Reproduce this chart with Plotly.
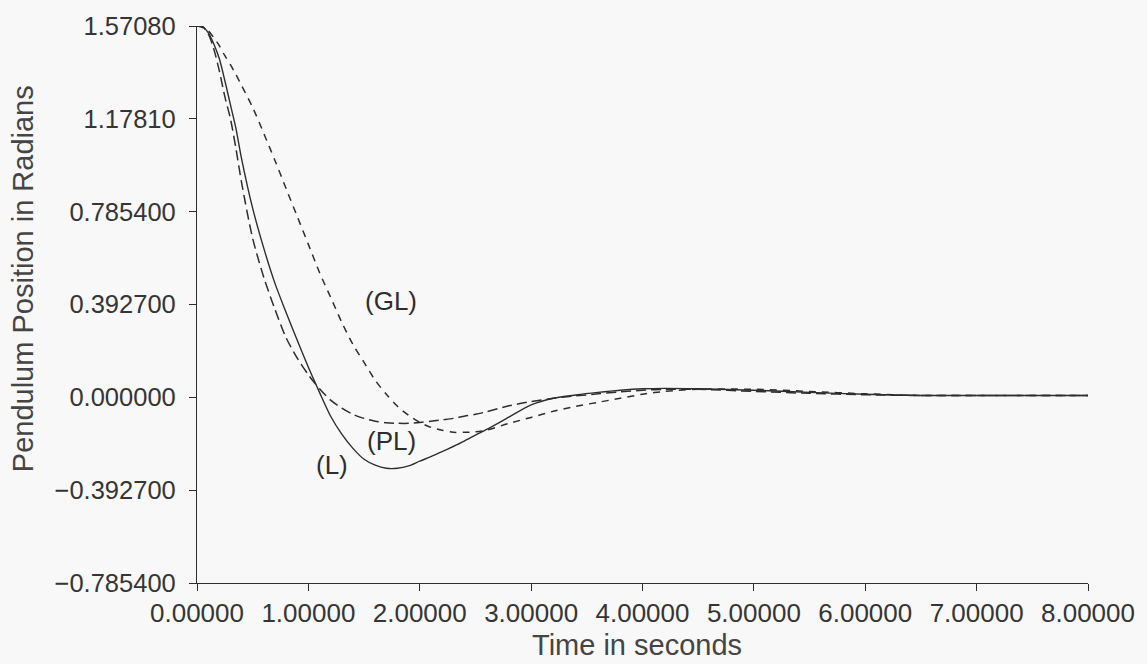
import plotly.graph_objects as go

# time grid (seconds)
time_s = [0, 0.05, 0.1, 0.15, 0.2, 0.25, 0.3, 0.35, 0.4, 0.5, 0.6, 0.7, 0.8, 0.9,
          1.0, 1.1, 1.2, 1.3, 1.4, 1.5, 1.6, 1.7, 1.8, 1.9, 2.0, 2.1, 2.2, 2.3,
          2.4, 2.5, 2.6, 2.8, 3.0, 3.2, 3.4, 3.6, 3.8, 4.0, 4.2, 4.5, 5.0, 5.5,
          6.0, 6.5, 7.0, 8.0]

# (L) solid curve
theta_L = [1.5708, 1.568, 1.543, 1.496, 1.433, 1.340, 1.238, 1.137, 1.010, 0.799,
           0.630, 0.482, 0.359, 0.241, 0.127, 0.021, -0.080, -0.156, -0.216, -0.262,
           -0.287, -0.300, -0.300, -0.290, -0.270, -0.251, -0.230, -0.208, -0.185,
           -0.160, -0.136, -0.084, -0.032, -0.004, 0.010, 0.021, 0.030, 0.036,
           0.038, 0.036, 0.030, 0.021, 0.013, 0.008, 0.008, 0.008]

# (PL) long-dash curve
theta_PL = [1.5708, 1.568, 1.538, 1.475, 1.382, 1.272, 1.179, 1.052, 0.909, 0.672,
            0.507, 0.372, 0.252, 0.166, 0.095, 0.036, -0.012, -0.046, -0.072, -0.089,
            -0.101, -0.108, -0.110, -0.110, -0.106, -0.101, -0.095, -0.089, -0.080,
            -0.072, -0.061, -0.036, -0.018, -0.004, 0.006, 0.015, 0.023, 0.030,
            0.034, 0.034, 0.025, 0.017, 0.011, 0.008, 0.008, 0.008]

# (GL) dashed curve
theta_GL = [1.5708, 1.564, 1.551, 1.522, 1.488, 1.445, 1.407, 1.365, 1.319, 1.226,
            1.116, 1.002, 0.883, 0.765, 0.647, 0.528, 0.423, 0.317, 0.224, 0.148,
            0.072, 0.013, -0.038, -0.076, -0.106, -0.127, -0.139, -0.148, -0.148,
            -0.146, -0.139, -0.110, -0.085, -0.059, -0.038, -0.021, -0.004, 0.013,
            0.025, 0.034, 0.034, 0.025, 0.015, 0.008, 0.008, 0.008]

x_ticks = [0, 1, 2, 3, 4, 5, 6, 7, 8]
x_ticktext = ["0.00000", "1.00000", "2.00000", "3.00000", "4.00000",
              "5.00000", "6.00000", "7.00000", "8.00000"]
y_ticks = [1.5708, 1.1781, 0.7854, 0.3927, 0.0, -0.3927, -0.7854]
y_ticktext = ["1.57080", "1.17810", "0.785400", "0.392700", "0.000000",
              "\u22120.392700", "\u22120.785400"]

curve_labels = ["(GL)", "(PL)", "(L)"]
label_t = [1.745, 1.745, 1.208]
label_theta = [0.406, -0.186, -0.287]

ink = "#2e2e2e"
title_ink = "#454545"
font_family = "Liberation Sans, Arial, sans-serif"

fig = go.Figure()
fig.add_trace(go.Scatter(x=time_s, y=theta_GL, mode="lines", cliponaxis=False,
                         line=dict(color=ink, width=1.5, dash="7px,6px",
                                   shape="spline", smoothing=0.8),
                         showlegend=False))
fig.add_trace(go.Scatter(x=time_s, y=theta_PL, mode="lines", cliponaxis=False,
                         line=dict(color=ink, width=1.5, dash="10px,5px",
                                   shape="spline", smoothing=0.8),
                         showlegend=False))
fig.add_trace(go.Scatter(x=time_s, y=theta_L, mode="lines", cliponaxis=False,
                         line=dict(color=ink, width=1.4,
                                   shape="spline", smoothing=0.8),
                         showlegend=False))

for txt, tx, ty in zip(curve_labels, label_t, label_theta):
    fig.add_annotation(x=tx, y=ty, text=txt, showarrow=False,
                       font=dict(family=font_family, size=26, color=ink))

fig.add_annotation(xref="paper", yref="paper", x=-0.1957, y=(583 - 278) / 558,
                   text="Pendulum Position in Radians", textangle=-90,
                   showarrow=False, xanchor="center", yanchor="middle",
                   font=dict(family=font_family, size=29, color=title_ink))
fig.add_annotation(xref="paper", yref="paper", x=(638 - 197) / 894, y=-(645 - 583) / 558,
                   text="Time in seconds", showarrow=False,
                   xanchor="center", yanchor="middle",
                   font=dict(family=font_family, size=29, color=title_ink))

fig.update_layout(
    width=1147, height=664,
    margin=dict(l=197, r=56, t=25, b=81),
    paper_bgcolor="#f8f8f8", plot_bgcolor="#f8f8f8",
    font=dict(family=font_family, color="#353535"),
    xaxis=dict(range=[0, 8], tickvals=x_ticks, ticktext=x_ticktext,
               showgrid=False, zeroline=False, showline=True,
               linecolor=ink, linewidth=1.3, ticks="outside", ticklen=7,
               tickcolor=ink, tickfont=dict(size=26, family=font_family)),
    yaxis=dict(range=[-0.7854, 1.5708], tickvals=y_ticks, ticktext=y_ticktext,
               showgrid=False, zeroline=False, showline=True,
               linecolor=ink, linewidth=1.3, ticks="outside", ticklen=7,
               tickcolor=ink, ticklabelstandoff=8,
               tickfont=dict(size=25.5, family=font_family)),
)

fig.write_html("out.html")
